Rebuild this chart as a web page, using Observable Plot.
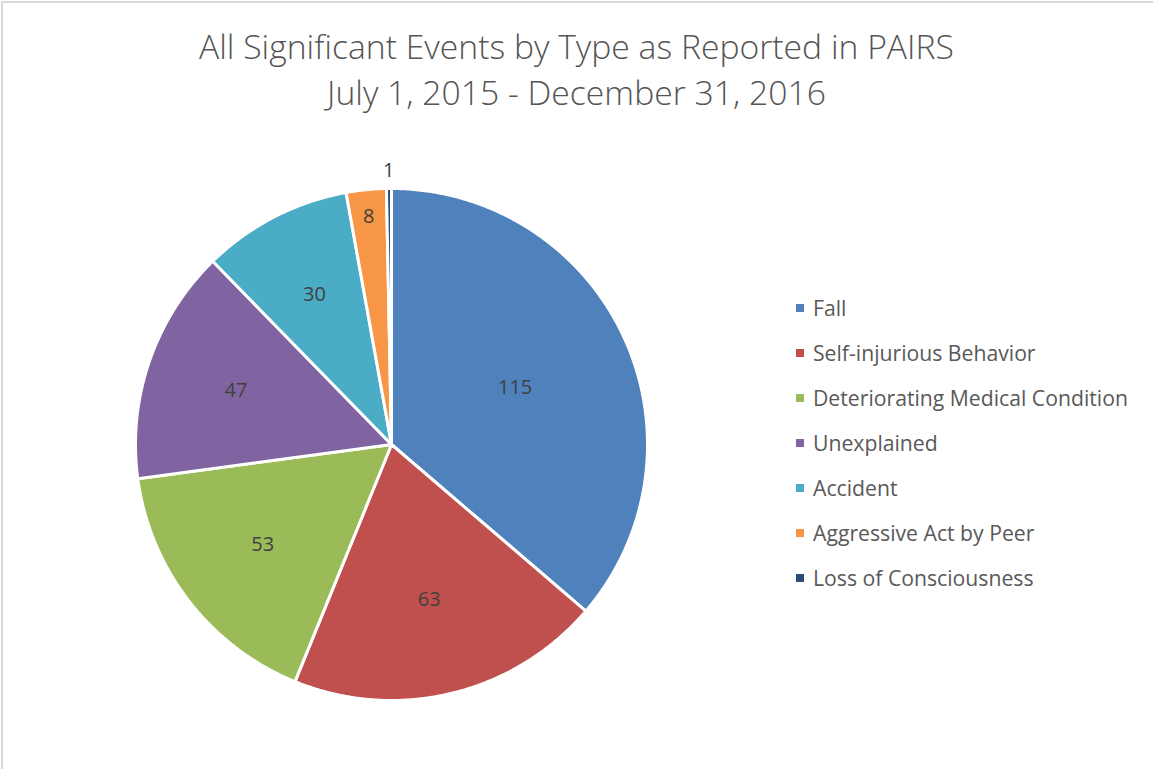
<!DOCTYPE html>
<html>
<head>
<meta charset="utf-8">
<script src="https://cdn.jsdelivr.net/npm/d3@7"></script>
<script src="https://cdn.jsdelivr.net/npm/@observablehq/plot@0.6"></script>
<style>
  html, body { margin: 0; padding: 0; background: #fff; }
  #wrap { position: relative; width: 1153px; height: 769px; overflow: hidden; font-family: "Open Sans", sans-serif; }
  #frame { position: absolute; left: 1px; top: 1px; width: 1200px; height: 800px; border-top: 2px solid #d9d9d9; border-left: 2px solid #d9d9d9; }
  #title { position: absolute; left: 0; top: 23px; width: 1153px; text-align: center; color: #555555; font-weight: 300; font-size: 33.7px; line-height: 46px; }
  #chart { position: absolute; left: 0; top: 130px; }
  #legend { position: absolute; left: 796px; top: 294px; color: #595959; font-size: 21.2px; }
  #legend .row { position: relative; height: 45px; line-height: 28px; white-space: nowrap; }
  #legend .sw { position: absolute; left: 0; top: 10px; width: 8px; height: 8px; }
  #legend .lb { position: absolute; left: 17px; top: 0; }
</style>
</head>
<body>
<div id="wrap">
  <div id="frame"></div>
  <div id="title">All Significant Events by Type as Reported in PAIRS<br>July 1, 2015 - December 31, 2016</div>
  <div id="chart"></div>
  <div id="legend"></div>
</div>
<script>
const categories = ["Fall", "Self-injurious Behavior", "Deteriorating Medical Condition", "Unexplained", "Accident", "Aggressive Act by Peer", "Loss of Consciousness"];
const counts = [115, 63, 53, 47, 30, 8, 1];
const colors = ["#4F81BD", "#C0504D", "#9BBB59", "#8064A2", "#4BACC6", "#F79646", "#2C4D75"];

// layout (pixels)
const W = 1153, H = 639, R = 256, CX = 391, CY = 314;

const data = categories.map((c, i) => ({name: c, count: counts[i]}));
const arcs = d3.pie().sort(null).value(d => d.count)(data);

// slice outlines in unit-radius space
const pts = [];
for (const a of arcs) {
  pts.push({name: a.data.name, x: 0, y: 0});
  const n = Math.max(2, Math.ceil((a.endAngle - a.startAngle) / (Math.PI / 360)));
  for (let k = 0; k <= n; k++) {
    const t = a.startAngle + (a.endAngle - a.startAngle) * k / n;
    pts.push({name: a.data.name, x: Math.sin(t), y: Math.cos(t)});
  }
}

// labels at sector centroid, pushed outward for narrow slices
const labels = arcs.map(a => {
  const th = a.endAngle - a.startAngle;
  const mid = (a.startAngle + a.endAngle) / 2;
  let r = th > 1e-6 ? (4 * Math.sin(th / 2)) / (3 * th) : 2 / 3;
  if (th < 0.3) {
    const rin = 1 - 27 / R;
    if (th * rin * R > 30) r = rin; else r = 1 + 18 / R;
  }
  return {label: String(a.data.count), x: r * Math.sin(mid), y: r * Math.cos(mid)};
});

const plot = Plot.plot({
  width: W, height: H,
  margin: 0,
  x: {domain: [-CX / R, (W - CX) / R], axis: null},
  y: {domain: [-(H - CY) / R, CY / R], axis: null},
  color: {domain: categories, range: colors},
  style: {background: "transparent", overflow: "visible"},
  marks: [
    Plot.line(pts, {x: "x", y: "y", z: "name", fill: "name", stroke: "white", strokeWidth: 3, strokeLinejoin: "round", curve: "linear-closed"}),
    Plot.text(labels, {x: "x", y: "y", text: "label", fill: "#404040", fontSize: 20, fontFamily: "Open Sans"})
  ]
});
document.getElementById("chart").appendChild(plot);

const color = plot.scale("color");
const leg = document.getElementById("legend");
categories.forEach((c, i) => {
  const row = document.createElement("div");
  row.className = "row";
  row.innerHTML = `<span class="sw" style="background:${color.apply(c)}"></span><span class="lb">${c}</span>`;
  leg.appendChild(row);
});
</script>
</body>
</html>
